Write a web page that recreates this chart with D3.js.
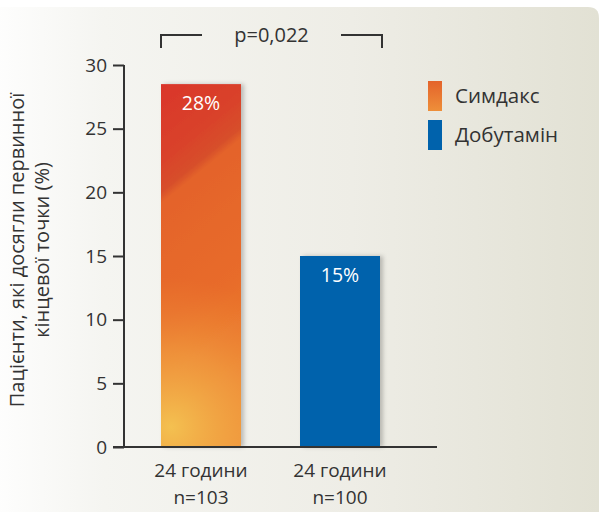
<!DOCTYPE html>
<html>
<head>
<meta charset="utf-8">
<script src="https://cdn.jsdelivr.net/npm/d3@7"></script>
<style>
  body { margin: 0; background: #fff; }
  text { font-family: "Open Sans", "Noto Sans", sans-serif; fill: #333; }
</style>
</head>
<body>
<svg id="chart"></svg>
<script>
// data
var categories = ["24 години", "24 години"];
var sampleSizes = ["n=103", "n=100"];
var series = ["Симдакс", "Добутамін"];
var values = [28.5, 15];
var valueLabels = ["28%", "15%"];
var yTicks = [0, 5, 10, 15, 20, 25, 30];
var pText = "p=0,022";

var width = 600, height = 512;
var axisX = 124, baseY = 447, topY = 65;

var svg = d3.select("#chart")
  .attr("width", width)
  .attr("height", height);

var defs = svg.append("defs");

// panel background
var bg = defs.append("linearGradient").attr("id", "bg")
  .attr("x1", "0").attr("y1", "0").attr("x2", "1").attr("y2", "0");
bg.append("stop").attr("offset", "0").attr("stop-color", "#ffffff");
bg.append("stop").attr("offset", "0.2").attr("stop-color", "#f5f5f1");
bg.append("stop").attr("offset", "0.6").attr("stop-color", "#eeede6");
bg.append("stop").attr("offset", "1").attr("stop-color", "#e2e1d4");

var x = d3.scaleBand()
  .domain(d3.range(values.length))
  .range([161, 380])
  .paddingInner(0.4245)
  .paddingOuter(0);

var y = d3.scaleLinear().domain([0, 30]).range([baseY, topY]);

// orange bar: red cap on a diagonal, yellow glow at the bottom left
var bx = x(0), bw = x.bandwidth(), btop = y(values[0]);
var orange = defs.append("linearGradient").attr("id", "orange")
  .attr("gradientUnits", "userSpaceOnUse")
  .attr("x1", bx + 9).attr("y1", btop - 14)
  .attr("x2", bx + 222).attr("y2", btop + 248);
orange.append("stop").attr("offset", "0").attr("stop-color", "#da342b");
orange.append("stop").attr("offset", "0.2").attr("stop-color", "#d9432b");
orange.append("stop").attr("offset", "0.265").attr("stop-color", "#d74f2b");
orange.append("stop").attr("offset", "0.29").attr("stop-color", "#e4632b");
orange.append("stop").attr("offset", "0.6").attr("stop-color", "#e86c2a");
orange.append("stop").attr("offset", "1").attr("stop-color", "#ee8a35");

var glow = defs.append("radialGradient").attr("id", "glow")
  .attr("gradientUnits", "userSpaceOnUse")
  .attr("cx", bx + 10).attr("cy", baseY - 20).attr("r", 150);
glow.append("stop").attr("offset", "0").attr("stop-color", "#f4c452").attr("stop-opacity", 0.95);
glow.append("stop").attr("offset", "0.5").attr("stop-color", "#f2a544").attr("stop-opacity", 0.6);
glow.append("stop").attr("offset", "1").attr("stop-color", "#ee8a35").attr("stop-opacity", 0);

var orangeSw = defs.append("linearGradient").attr("id", "orangeSw")
  .attr("x1", "0").attr("y1", "0").attr("x2", "0").attr("y2", "1");
orangeSw.append("stop").attr("offset", "0").attr("stop-color", "#e4632b");
orangeSw.append("stop").attr("offset", "1").attr("stop-color", "#ee8f3a");

var shadow = defs.append("filter").attr("id", "shadow")
  .attr("x", "-20%").attr("y", "-10%").attr("width", "150%").attr("height", "120%");
shadow.append("feDropShadow").attr("dx", 3).attr("dy", 0)
  .attr("stdDeviation", 2).attr("flood-color", "#000").attr("flood-opacity", 0.22);

svg.append("path")
  .attr("d", "M-20,7 H588 Q599,7 599,18 V530 H-20 Z")
  .attr("fill", "url(#bg)");

var fills = ["url(#orange)", "#0062ac"];
var swatches = ["url(#orangeSw)", "#0062ac"];

svg.selectAll("rect.bar")
  .data(values)
  .enter()
  .append("rect")
  .attr("class", "bar")
  .attr("x", function(d, i) { return x(i); })
  .attr("y", function(d) { return y(d); })
  .attr("width", x.bandwidth())
  .attr("height", function(d) { return y(0) - y(d); })
  .attr("fill", function(d, i) { return fills[i]; })
  .attr("filter", "url(#shadow)");

svg.append("rect")
  .datum(values[0])
  .attr("x", x(0))
  .attr("y", function(d) { return y(d); })
  .attr("width", x.bandwidth())
  .attr("height", function(d) { return y(0) - y(d); })
  .attr("fill", "url(#glow)");

svg.selectAll("text.val")
  .data(values)
  .enter()
  .append("text")
  .attr("class", "val")
  .attr("x", function(d, i) { return x(i) + x.bandwidth() / 2; })
  .attr("y", function(d) { return y(d) + 26; })
  .attr("text-anchor", "middle")
  .style("fill", "#fff")
  .style("font-size", "19.5px")
  .text(function(d, i) { return valueLabels[i]; });

// y axis
var yAxis = d3.axisLeft(y).tickValues(yTicks).tickSize(11).tickPadding(6);
var gy = svg.append("g").attr("transform", "translate(" + axisX + ",0)").call(yAxis);
gy.select(".domain").attr("stroke", "#333").attr("stroke-width", 2)
  .attr("d", "M0," + y(30) + "V" + y(0));
gy.selectAll(".tick line").attr("stroke", "#333").attr("stroke-width", 2);
gy.selectAll(".tick text").style("font-size", "19px").style("fill", "#333")
  .style("font-family", "'Open Sans', sans-serif");

// x axis baseline
svg.append("line")
  .attr("x1", axisX - 11).attr("x2", 437)
  .attr("y1", y(0)).attr("y2", y(0))
  .attr("stroke", "#333").attr("stroke-width", 2);

var xl = svg.selectAll("g.xl")
  .data(categories)
  .enter()
  .append("g")
  .attr("class", "xl")
  .attr("transform", function(d, i) { return "translate(" + (x(i) + x.bandwidth() / 2) + ",0)"; });
xl.append("text").attr("y", 477).attr("text-anchor", "middle")
  .style("font-size", "19px").text(function(d) { return d; });
xl.append("text").attr("y", 504).attr("text-anchor", "middle")
  .style("font-size", "19px").text(function(d, i) { return sampleSizes[i]; });

// y title
var yt = svg.append("text")
  .attr("transform", "translate(0,250) rotate(-90)")
  .attr("text-anchor", "middle")
  .style("font-size", "20px");
yt.append("tspan").attr("x", 0).attr("y", 24).text("Пацієнти, які досягли первинної");
yt.append("tspan").attr("x", 0).attr("y", 49).text("кінцевої точки (%)");

// significance bracket
var bx1 = x(0), bx2 = x(1) + x.bandwidth() + 2;
svg.append("path")
  .attr("d", "M" + bx1 + ",48V35H202M341,35H" + bx2 + "V48")
  .attr("fill", "none").attr("stroke", "#333").attr("stroke-width", 2);
svg.append("text")
  .attr("x", (bx1 + bx2) / 2).attr("y", 42)
  .attr("text-anchor", "middle")
  .style("font-size", "20px")
  .text(pText);

// legend
var lg = svg.selectAll("g.lg")
  .data(series)
  .enter()
  .append("g")
  .attr("class", "lg")
  .attr("transform", function(d, i) { return "translate(428," + (81 + i * 39) + ")"; });
lg.append("rect").attr("width", 14).attr("height", 30)
  .attr("fill", function(d, i) { return swatches[i]; });
lg.append("text").attr("x", 27).attr("y", 22)
  .style("font-size", "20.5px").text(function(d) { return d; });
</script>
</body>
</html>
